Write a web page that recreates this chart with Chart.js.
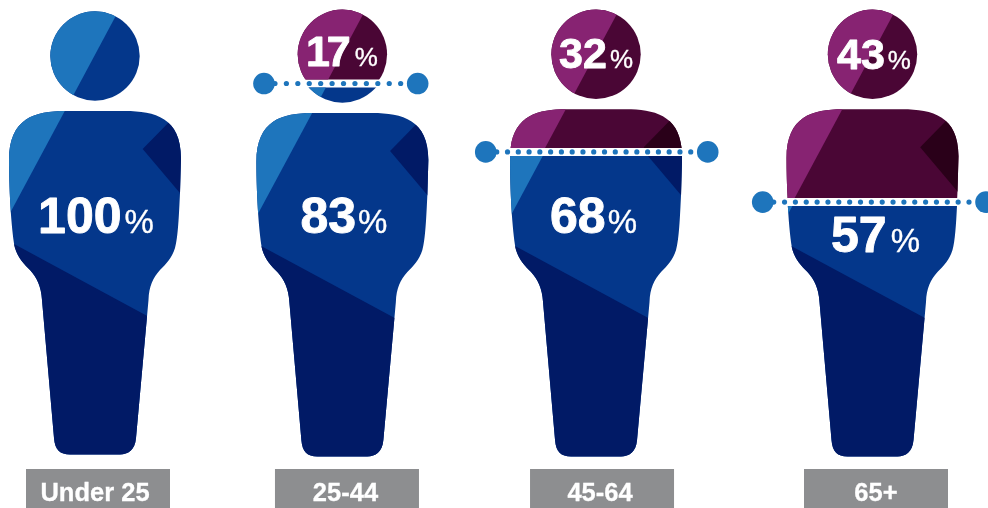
<!DOCTYPE html>
<html>
<head>
<meta charset="utf-8">
<title>Share by age group</title>
<style>
  html, body { margin: 0; padding: 0; background: #fff; }
  canvas { display: block; }
</style>
<script src="https://cdn.jsdelivr.net/npm/chart.js@4"></script>
</head>
<body>
<canvas id="myChart" width="988" height="508"></canvas>
<script>
const ageGroups = ["Under 25", "25-44", "45-64", "65+"]
const lowerShare = [100, 83, 68, 57]
const upperShare = [0, 17, 32, 43]

// per figure layout, px
const figureNudge = [0, -11.8, -17.3, 0]
const boxOffset = [3, 4.6, 6, 3.5]
const tagTextOffset = [-3, -1.5, -2, 0]
const lowerLabel = [{dx: 1, y: 233, gap: 3}, {dx: 1.6, y: 233, gap: 2}, {dx: -2.5, y: 233, gap: 2}, {dx: 3, y: 252, gap: 4}]
const upperLabel = [null, {dx: -0.5, y: 66, gap: 7, track: -3}, {dx: 0, y: 68, gap: 3}, {dx: 1.5, y: 69, gap: 3}]
const ruleEnds = [null, {l: -78.4, r: 75.3, dots: 12}, {l: -110.3, r: 111.7, dots: 19}, {l: -109.8, r: 113.5, dots: 19}]

const bluePalette = {light: "#1e75bc", mid: "#04378b", dark: "#011a66"}
const purplePalette = {light: "#872372", mid: "#4a0635", dark: "#2a0019"}

// silhouette outline, drawn around x = 95
const HEAD = new Path2D()
HEAD.arc(95, 56, 44.7, 0, Math.PI * 2)
const BODY = new Path2D("M65 111 L125 111 C155 111 181 118 181 158 L180 193 C179 215 178 238 175 248 " +
  "C172 258 166 264 160 270 C153 278 149 286 148.5 300 L136 438 C135 450 128 454.5 120 454.5 L70 454.5 " +
  "C60 454.5 55 450 54 438 L42 300 C41 286 37 278 30 270 C24 264 18 258 15 248 C12 236 9 195 9 160 " +
  "C9 118 35 111 65 111 Z")
const HEAD_FACET = new Path2D("M120 8 L69.7 102 L40 102 L40 8 Z")
const BODY_FACET = new Path2D("M68 105 L3.6 225 L0 225 L0 105 Z")
const SHOULDER_FACET = new Path2D("M175 116 L142.7 149 L190 205 L190 116 Z")
const LOWER_FACET = new Path2D("M0 236.5 L190 339 L190 460 L0 460 Z")

function drawFigure(ctx, palette) {
  ctx.save()
  ctx.clip(HEAD)
  ctx.fillStyle = palette.mid
  ctx.fillRect(40, 0, 110, 110)
  ctx.fillStyle = palette.light
  ctx.fill(HEAD_FACET)
  ctx.restore()

  ctx.save()
  ctx.clip(BODY)
  ctx.fillStyle = palette.mid
  ctx.fillRect(0, 105, 190, 355)
  ctx.fillStyle = palette.light
  ctx.fill(BODY_FACET)
  ctx.fillStyle = palette.dark
  ctx.fill(SHOULDER_FACET)
  ctx.fill(LOWER_FACET)
  ctx.restore()
}

function drawClipped(ctx, palette, cx, top, bottom, dy) {
  ctx.save()
  ctx.beginPath()
  ctx.rect(0, top, 988, bottom - top)
  ctx.clip()
  ctx.translate(cx - 95, dy)
  drawFigure(ctx, palette)
  ctx.restore()
}

// white text with a thin stroke, the faces here run a little light
function heavyText(ctx, text, x, y, weight) {
  ctx.fillText(text, x, y)
  ctx.lineWidth = weight
  ctx.strokeText(text, x, y)
}

function drawValue(ctx, value, cx, spec, bigFont, smallFont) {
  let num = String(value)
  ctx.save()
  ctx.letterSpacing = (spec.track || 0) + "px"
  ctx.font = bigFont
  let w1 = ctx.measureText(num).width
  ctx.letterSpacing = "0px"
  ctx.font = smallFont
  let w2 = ctx.measureText("%").width
  let x = cx + spec.dx - (w1 + spec.gap + w2) / 2
  ctx.fillStyle = "#fff"
  ctx.strokeStyle = "#fff"
  ctx.lineJoin = "round"
  ctx.textAlign = "left"
  ctx.textBaseline = "alphabetic"
  ctx.letterSpacing = (spec.track || 0) + "px"
  ctx.font = bigFont
  heavyText(ctx, num, x, spec.y, 0.9)
  ctx.letterSpacing = "0px"
  ctx.font = smallFont
  heavyText(ctx, "%", x + w1 + spec.gap, spec.y, 0.35)
  ctx.restore()
}

function drawRule(ctx, cx, y, spec) {
  let left = cx + spec.l
  let right = cx + spec.r
  let first = left + 11
  let step = (right - 17 - first) / (spec.dots - 1)
  ctx.fillStyle = "#1e75bc"
  for (let d = 0; d < spec.dots; d++) {
    ctx.beginPath()
    ctx.arc(first + d * step, y, 2.6, 0, Math.PI * 2)
    ctx.fill()
  }
  for (let x of [left, right]) {
    ctx.beginPath()
    ctx.arc(x, y, 10.8, 0, Math.PI * 2)
    ctx.fill()
  }
}

const figurePlugin = {
  id: "figures",
  afterDatasetsDraw(chart) {
    const ctx = chart.ctx
    const bars = chart.getDatasetMeta(0).data
    ageGroups.forEach((group, i) => {
      const cx = bars[i].x + figureNudge[i]
      const cutY = bars[i].y
      if (upperShare[i] > 0) {
        drawClipped(ctx, purplePalette, cx, 0, cutY - 4, -1.7)
        drawClipped(ctx, bluePalette, cx, cutY + 4, 508, 2)
        drawRule(ctx, cx, cutY, ruleEnds[i])
        drawValue(ctx, upperShare[i], cx, upperLabel[i], "bold 43px 'Liberation Sans'", "26px 'Liberation Sans'")
      } else {
        drawClipped(ctx, bluePalette, cx, 0, 508, 0)
      }
      drawValue(ctx, lowerShare[i], cx, lowerLabel[i], "bold 50px 'Liberation Sans'", "33px 'Liberation Sans'")

      // age group tag along the bottom
      const bx = cx + boxOffset[i]
      ctx.fillStyle = "#8d8e90"
      ctx.fillRect(bx - 72, 469, 144, 39)
      ctx.fillStyle = "#fff"
      ctx.strokeStyle = "#fff"
      ctx.font = "bold 25.5px 'Liberation Sans'"
      ctx.textAlign = "center"
      ctx.textBaseline = "alphabetic"
      heavyText(ctx, group, bx + tagTextOffset[i], 501, 0.3)
    })
  }
}

new Chart(document.getElementById("myChart"), {
  type: "bar",
  data: {
    labels: ageGroups,
    datasets: [
      {label: "lower", data: lowerShare, backgroundColor: "transparent", stack: "share"},
      {label: "upper", data: upperShare, backgroundColor: "transparent", stack: "share"}
    ]
  },
  options: {
    responsive: false,
    animation: false,
    layout: {padding: {top: 6, bottom: 46, left: 95, right: 115.5}},
    plugins: {legend: {display: false}, tooltip: {enabled: false}},
    scales: {
      x: {display: false, offset: false, stacked: true},
      y: {display: false, min: 0, max: 100, stacked: true}
    }
  },
  plugins: [figurePlugin]
})
</script>
</body>
</html>
